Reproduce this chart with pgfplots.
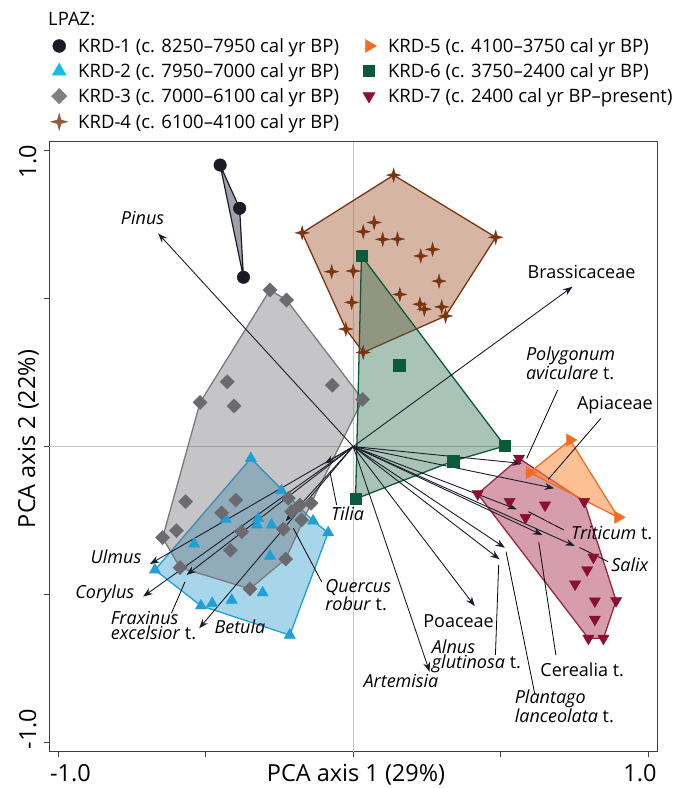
\documentclass[border=0pt]{standalone}
\usepackage{fontspec}
\setmainfont{Open Sans}
\usepackage{pgfplots}
\pgfplotsset{compat=1.18}
\usetikzlibrary{arrows.meta}

\definecolor{kA}{HTML}{1B1B27}
\definecolor{kAfill}{HTML}{A0A0A8}
\definecolor{kB}{HTML}{1FA0D4}
\definecolor{kBfill}{HTML}{2E9CCB}
\definecolor{kC}{HTML}{6B6B6F}
\definecolor{kCfill}{HTML}{6E6E74}
\definecolor{kD}{HTML}{7A3510}
\definecolor{kDfill}{HTML}{A45A36}
\definecolor{kE}{HTML}{F26D21}
\definecolor{kEfill}{HTML}{FA8C3C}
\definecolor{kF}{HTML}{0B5A3A}
\definecolor{kFfill}{HTML}{2A6A4C}
\definecolor{kG}{HTML}{8A0F30}
\definecolor{kGfill}{HTML}{AE3E5A}
\definecolor{arrc}{HTML}{1A1D2B}
\definecolor{axc}{HTML}{404040}

\pgfdeclareplotmark{fourstar}{%
 \pgfpathmoveto{\pgfqpoint{0pt}{\pgfplotmarksize}}%
 \pgfpathlineto{\pgfqpoint{0.22\pgfplotmarksize}{0.22\pgfplotmarksize}}%
 \pgfpathlineto{\pgfqpoint{\pgfplotmarksize}{0pt}}%
 \pgfpathlineto{\pgfqpoint{0.22\pgfplotmarksize}{-0.22\pgfplotmarksize}}%
 \pgfpathlineto{\pgfqpoint{0pt}{-\pgfplotmarksize}}%
 \pgfpathlineto{\pgfqpoint{-0.22\pgfplotmarksize}{-0.22\pgfplotmarksize}}%
 \pgfpathlineto{\pgfqpoint{-\pgfplotmarksize}{0pt}}%
 \pgfpathlineto{\pgfqpoint{-0.22\pgfplotmarksize}{0.22\pgfplotmarksize}}%
 \pgfpathclose
 \pgfusepathqfillstroke
}

\tikzset{
 arr/.style={draw=arrc, line width=0.9bp, -{Stealth[length=9.5bp,width=7bp]}},
 lead/.style={draw=black, line width=0.8bp},
 lab/.style={font=\fontsize{18bp}{15bp}\selectfont, inner sep=0pt, align=left},
}

\begin{document}
\begin{tikzpicture}[x=1bp,y=1bp]
\path[use as bounding box] (0,0) rectangle (678,788);
\begin{axis}[
 at={(49.3bp,36.3bp)}, anchor=south west,
 width=608.4bp, height=610bp, scale only axis,
 xmin=-1.03, xmax=1.032, ymin=-1.031, ymax=1.03,
 axis line style={draw=axc, line width=1.1bp},
 xtick={-1,-0.5,0,0.5,1}, ytick={-1,-0.5,0,0.5,1},
 xticklabels={}, yticklabels={},
 tick align=outside, major tick length=5bp,
 xtick pos=left, ytick pos=left,
 tick style={draw=axc, line width=1bp},
 legend columns=2, legend cell align=left,
 legend style={at={(0.0012,1.170)}, anchor=north west, draw=none, fill=none,
   inner sep=0pt, row sep=9.4bp, font=\fontsize{18.5bp}{20bp}\selectfont,
   nodes={inner sep=0pt},
   /tikz/every even column/.append style={column sep=21bp}},
 legend image code/.code={\pgfpathrectangle{\pgfqpoint{0bp}{-6bp}}{\pgfqpoint{28bp}{12bp}}\pgfusepath{discard}\draw[#1] plot coordinates {(9bp,0bp)};},
]
% zero lines
\addplot[draw=black!22, line width=1bp, forget plot] coordinates {(0,-1.031) (0,1.03)};
\addplot[draw=black!22, line width=1bp, forget plot] coordinates {(-1.03,0) (1.032,0)};

% hulls
\addplot[forget plot, fill=kBfill, fill opacity=0.42, draw=kB, line width=1.3bp, line join=round]
 coordinates {(-0.347,-0.040) (-0.136,-0.251) (-0.085,-0.291) (-0.215,-0.637) (-0.516,-0.538) (-0.672,-0.417) (-0.347,-0.040)};
\addplot[forget plot, fill=kCfill, fill opacity=0.4, draw=kC!90, line width=1.3bp, line join=round]
 coordinates {(-0.282,0.529) (-0.226,0.495) (0.032,0.159) (-0.143,-0.192) (-0.229,-0.380) (-0.350,-0.481) (-0.587,-0.409) (-0.646,-0.308) (-0.519,0.149) (-0.282,0.529)};
\addplot[forget plot, fill=kAfill, draw=kA, line width=1.2bp, line join=round]
 coordinates {(-0.451,0.951) (-0.385,0.805) (-0.372,0.572) (-0.451,0.951)};
\addplot[forget plot, fill=kDfill, fill opacity=0.45, draw=kD, line width=1.3bp, line join=round]
 coordinates {(0.137,0.917) (0.483,0.707) (0.313,0.441) (0.034,0.318) (-0.025,0.397) (-0.173,0.722) (0.137,0.917)};
\addplot[forget plot, fill=kFfill, fill opacity=0.4, draw=kF, line width=1.3bp, line join=round]
 coordinates {(0.028,0.644) (0.514,0.002) (0.339,-0.049) (0.008,-0.177) (0.028,0.644)};
\addplot[forget plot, fill=kGfill, fill opacity=0.5, draw=kG!90, line width=1.3bp, line join=round]
 coordinates {(0.562,-0.040) (0.783,-0.186) (0.891,-0.521) (0.848,-0.648) (0.797,-0.648) (0.422,-0.160) (0.562,-0.040)};
\addplot[forget plot, fill=kEfill, fill opacity=0.55, draw=kE, line width=1.3bp, line join=round]
 coordinates {(0.735,0.022) (0.898,-0.239) (0.598,-0.088) (0.735,0.022)};

% points
\addplot[forget plot, only marks, mark=*, mark size=6.3bp, mark options={draw=kA, fill=kA}]
 coordinates {(-0.451,0.951) (-0.385,0.805) (-0.372,0.572)};
\addplot[forget plot, only marks, mark=triangle*, mark size=6.5bp, mark options={draw=kB, fill=kB}]
 coordinates {(-0.347,-0.040) (-0.243,-0.149) (-0.432,-0.245) (-0.322,-0.243) (-0.326,-0.265) (-0.277,-0.265) (-0.539,-0.329) (-0.136,-0.251) (-0.085,-0.291) (-0.282,-0.370) (-0.672,-0.417) (-0.307,-0.494) (-0.412,-0.519) (-0.516,-0.538) (-0.478,-0.530) (-0.215,-0.637)};
\addplot[forget plot, only marks, mark=square*, mark size=5bp, mark options={draw=kC, fill=kC, rotate=45}]
 coordinates {(-0.282,0.529) (-0.226,0.495) (-0.427,0.219) (-0.519,0.149) (-0.404,0.137) (-0.071,0.207) (0.032,0.159) (-0.568,-0.186) (-0.398,-0.181) (-0.446,-0.224) (-0.599,-0.284) (-0.646,-0.308) (-0.378,-0.288) (-0.416,-0.350) (-0.587,-0.409) (-0.350,-0.481) (-0.229,-0.380) (-0.237,-0.279) (-0.220,-0.175) (-0.209,-0.220) (-0.181,-0.198) (-0.143,-0.192) (-0.175,-0.248)};
\addplot[forget plot, only marks, mark=fourstar, mark size=7bp, mark options={draw=kD, fill=kD}]
 coordinates {(0.137,0.917) (-0.173,0.722) (0.483,0.707) (0.071,0.757) (0.034,0.726) (0.100,0.700) (0.150,0.701) (0.229,0.644) (0.269,0.666) (-0.073,0.591) (0.000,0.593) (0.291,0.559) (-0.005,0.487) (0.158,0.514) (0.226,0.481) (0.241,0.464) (0.300,0.472) (0.313,0.441) (-0.025,0.397) (0.034,0.318)};
\addplot[forget plot, only marks, mark=triangle*, mark size=7bp, mark options={draw=kE, fill=kE, rotate=-90}]
 coordinates {(0.735,0.022) (0.598,-0.088) (0.898,-0.239)};
\addplot[forget plot, only marks, mark=square*, mark size=5.7bp, mark options={draw=kF, fill=kF}]
 coordinates {(0.028,0.644) (0.156,0.275) (0.514,0.002) (0.339,-0.049) (0.008,-0.177)};
\addplot[forget plot, only marks, mark=triangle*, mark size=6.5bp, mark options={draw=kG, fill=kG, rotate=180}]
 coordinates {(0.562,-0.040) (0.422,-0.160) (0.530,-0.186) (0.650,-0.198) (0.783,-0.186) (0.584,-0.240) (0.814,-0.374) (0.793,-0.417) (0.752,-0.465) (0.819,-0.522) (0.891,-0.521) (0.819,-0.584) (0.797,-0.648) (0.848,-0.648)};

% arrows
\addplot[forget plot, arr] coordinates {(0,0) (-0.661,0.720)};
\addplot[forget plot, arr] coordinates {(0,0) (0.743,0.540)};
\addplot[forget plot, arr] coordinates {(0,0) (0.571,-0.057)};
\addplot[forget plot, arr] coordinates {(0,0) (0.681,-0.141)};
\addplot[forget plot, arr] coordinates {(0,0) (0.554,-0.212)};
\addplot[forget plot, arr] coordinates {(0,0) (0.641,-0.299)};
\addplot[forget plot, arr] coordinates {(0,0) (0.751,-0.336)};
\addplot[forget plot, arr] coordinates {(0,0) (0.514,-0.342)};
\addplot[forget plot, arr] coordinates {(0,0) (0.496,-0.381)};
\addplot[forget plot, arr] coordinates {(0,0) (0.412,-0.539)};
\addplot[forget plot, arr] coordinates {(0,0) (0.259,-0.761)};
\addplot[forget plot, arr] coordinates {(0,0) (-0.689,-0.397)};
\addplot[forget plot, arr] coordinates {(0,0) (-0.712,-0.507)};
\addplot[forget plot, arr] coordinates {(0,0) (-0.565,-0.434)};
\addplot[forget plot, arr] coordinates {(0,0) (-0.522,-0.614)};
\addplot[forget plot, arr] coordinates {(0,0) (-0.229,-0.252)};
\addplot[forget plot, arr] coordinates {(0,0) (-0.096,-0.057)};

% leader lines
\addplot[forget plot, lead] coordinates {(0.693,0.191) (0.588,-0.040)};
\addplot[forget plot, lead] coordinates {(0.839,0.095) (0.661,-0.111)};
\addplot[forget plot, lead] coordinates {(0.594,-0.220) (0.714,-0.282)};
\addplot[forget plot, lead] coordinates {(0.767,-0.341) (0.864,-0.389)};
\addplot[forget plot, lead] coordinates {(0.629,-0.324) (0.687,-0.705)};
\addplot[forget plot, lead] coordinates {(0.518,-0.355) (0.616,-0.839)};
\addplot[forget plot, lead] coordinates {(0.493,-0.400) (0.482,-0.704)};
\addplot[forget plot, lead] coordinates {(-0.203,-0.276) (-0.107,-0.457)};
\addplot[forget plot, lead] coordinates {(-0.079,-0.085) (-0.056,-0.198)};
\addplot[forget plot, lead] coordinates {(-0.570,-0.457) (-0.616,-0.563)};

% labels
\node[lab] at (axis cs:-0.714,0.771) {\textit{Pinus}};
\node[lab] at (axis cs:0.774,0.590) {Brassicaceae};
\node[lab, anchor=west] at (axis cs:0.585,0.281) {\textit{Polygonum}\\\textit{aviculare} t.};
\node[lab] at (axis cs:0.887,0.140) {Apiaceae};
\node[lab] at (axis cs:0.876,-0.293) {\textit{Triticum} t.};
\node[lab] at (axis cs:0.938,-0.400) {\textit{Salix}};
\node[lab] at (axis cs:0.776,-0.753) {Cerealia t.};
\node[lab, anchor=west] at (axis cs:0.547,-0.878) {\textit{Plantago}\\\textit{lanceolata} t.};
\node[lab, anchor=west] at (axis cs:0.266,-0.710) {\textit{Alnus}\\\textit{glutinosa} t.};
\node[lab] at (axis cs:0.357,-0.589) {Poaceae};
\node[lab] at (axis cs:0.162,-0.791) {\textit{Artemisia}};
\node[lab, anchor=west] at (axis cs:-0.095,-0.501) {\textit{Quercus}\\\textit{robur} t.};
\node[lab] at (axis cs:-0.019,-0.226) {\textit{Tilia}};
\node[lab] at (axis cs:-0.804,-0.374) {\textit{Ulmus}};
\node[lab] at (axis cs:-0.842,-0.496) {\textit{Corylus}};
\node[lab, anchor=west] at (axis cs:-0.822,-0.605) {\textit{Fraxinus}\\\textit{excelsior} t.};
\node[lab] at (axis cs:-0.384,-0.609) {\textit{Betula}};

% legend entries
\addlegendimage{only marks, mark=*, mark size=6.5bp, mark options={draw=kA, fill=kA}}
\addlegendentry{KRD-1 (c. 8250--7950 cal yr BP)}
\addlegendimage{only marks, mark=triangle*, mark size=7.5bp, mark options={draw=kE, fill=kE, rotate=-90}}
\addlegendentry{KRD-5 (c. 4100--3750 cal yr BP)}
\addlegendimage{only marks, mark=triangle*, mark size=8bp, mark options={draw=kB!70!cyan, fill=kB!70!cyan}}
\addlegendentry{KRD-2 (c. 7950--7000 cal yr BP)}
\addlegendimage{only marks, mark=square*, mark size=5.5bp, mark options={draw=kF, fill=kF}}
\addlegendentry{KRD-6 (c. 3750--2400 cal yr BP)}
\addlegendimage{only marks, mark=square*, mark size=5.5bp, mark options={draw=gray, fill=gray, rotate=45}}
\addlegendentry{KRD-3 (c. 7000--6100 cal yr BP)}
\addlegendimage{only marks, mark=triangle*, mark size=7bp, mark options={draw=kG, fill=kG, rotate=180}}
\addlegendentry{KRD-7 (c. 2400 cal yr BP--present)}
\addlegendimage{only marks, mark=fourstar, mark size=8.5bp, mark options={draw=kD!80!white, fill=kD!80!white}}
\addlegendentry{KRD-4 (c. 6100--4100 cal yr BP)}
\end{axis}

% outer texts (pixel coordinates, y measured from bottom)
\node[anchor=west, inner sep=0pt, font=\fontsize{18.5bp}{20bp}\selectfont] at (48,769) {LPAZ:};
\node[anchor=base, inner sep=0pt, font=\fontsize{23.5bp}{26bp}\selectfont] at (356,6) {PCA axis 1 (29\%)};
\node[anchor=base, inner sep=0pt, font=\fontsize{23.5bp}{26bp}\selectfont] at (70.5,6) {-1.0};
\node[anchor=base, inner sep=0pt, font=\fontsize{23.5bp}{26bp}\selectfont] at (640,6) {1.0};
\node[anchor=base, rotate=90, inner sep=0pt, font=\fontsize{23.5bp}{26bp}\selectfont] at (35,349) {PCA axis 2 (22\%)};
\node[anchor=base, rotate=90, inner sep=0pt, font=\fontsize{23.5bp}{26bp}\selectfont] at (36,626.3) {1.0};
\node[anchor=base, rotate=90, inner sep=0pt, font=\fontsize{23.5bp}{26bp}\selectfont] at (36,59) {-1.0};
\end{tikzpicture}
\end{document}
